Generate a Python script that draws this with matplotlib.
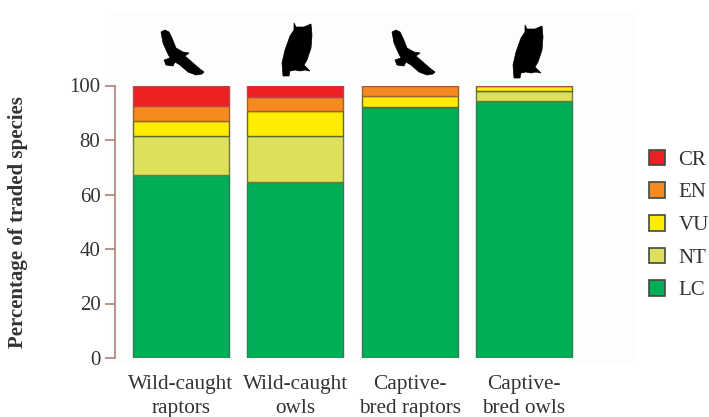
import numpy as np
import matplotlib.pyplot as plt
from matplotlib.patches import Patch, Polygon, Rectangle

categories = ['Wild-caught\nraptors', 'Wild-caught\nowls', 'Captive-\nbred raptors', 'Captive-\nbred owls']
LC = [67.2, 64.6, 92.2, 94.3]
NT = [14.1, 16.7, 0, 3.7]
VU = [5.7, 9.3, 3.8, 2.0]
EN = [5.5, 5.2, 4.0, 0]
CR = [7.5, 4.2, 0, 0]
status = ['LC', 'NT', 'VU', 'EN', 'CR']
colors = ['#00ae58', '#dde05a', '#ffec00', '#f58a1f', '#ed2024']
edges = ['#2f7d55', '#6f7a3a', '#5d6a2c', '#a0622c', '#b5484a']

# silhouettes, pixel outline relative to the top left of the icon
eagle = [(0, 2), (4, 0), (8, 2), (11, 8), (15, 18), (22, 22), (28, 23), (24, 26), (32, 33), (39, 39),
         (43, 42), (41, 44), (35, 45), (27, 42), (19, 35), (14, 32), (12, 36), (5, 35), (3, 30),
         (9, 28), (6, 22), (2, 13)]
owl = [(12, 0), (14, 4), (22, 4), (29, 1), (30, 12), (29, 25), (25, 37), (22, 42), (28, 48), (23, 47),
       (18, 48), (13, 47), (8, 48), (7, 53), (1, 53), (0, 40), (3, 27), (8, 13), (12, 7)]
icons = [(eagle, 161, 30), (owl, 282, 23), (eagle, 392, 30), (owl, 513, 25)]

W, H = 709, 417
plt.rcParams['font.family'] = ['Liberation Serif', 'DejaVu Serif']
fig = plt.figure(figsize=(W / 100, H / 100), dpi=100)

# faint panel behind the chart
fig.patches.append(Rectangle((105 / W, 1 - 363 / H), 530 / W, 352 / H, transform=fig.transFigure,
                             facecolor='#fefdfd', edgecolor='none', zorder=-5))

ax = fig.add_axes([115 / W, 1 - 358 / H, 520 / W, 272.5 / H])
ax.patch.set_alpha(0)

x = np.arange(len(categories))
bottom = np.zeros(len(categories))
for vals, c, e in zip([LC, NT, VU, EN, CR], colors, edges):
    vals = np.array(vals)
    ax.bar(x, vals, 0.84, bottom=bottom, color=c, edgecolor=e, linewidth=1.0)
    bottom += vals

ax.set_xlim(-0.577, 3.97)
ax.set_ylim(0, 100)
ax.set_yticks([0, 20, 40, 60, 80, 100])
ax.set_xticks(x)
ax.set_xticklabels(categories, fontsize=15.3, color='#333333', linespacing=1.38)
ax.tick_params(axis='x', length=0, pad=12)
ax.tick_params(axis='y', length=7, width=1.1, color='#a9776b', labelsize=15, labelcolor='#333333', pad=3.5)
for s in ['top', 'right', 'bottom']:
    ax.spines[s].set_visible(False)
ax.spines['left'].set_color('#a9776b')
ax.spines['left'].set_linewidth(1.1)

fig.text(18 / W, 1 - 222 / H, 'Percentage of traded species', rotation=90, ha='center', va='center',
         fontsize=15, fontweight='bold', color='#333333')

for shape, px, py in icons:
    pts = [((px + a) / W, 1 - (py + b) / H) for a, b in shape]
    fig.patches.append(Polygon(pts, closed=True, transform=fig.transFigure, facecolor='black',
                               edgecolor='black', linewidth=0.5))

handles = [Patch(facecolor=c, edgecolor='#3f4a3f', linewidth=1.2, label=s)
           for s, c in zip(status, colors)]
fig.legend(handles=handles[::-1], loc='center left', bbox_to_anchor=(649 / W, 1 - 225 / H), frameon=False,
           fontsize=15, labelcolor='#333333', handlelength=0.77, handleheight=0.77,
           labelspacing=0.61, handletextpad=0.65, borderpad=0, borderaxespad=0)

fig.savefig('out.png', dpi=100)
